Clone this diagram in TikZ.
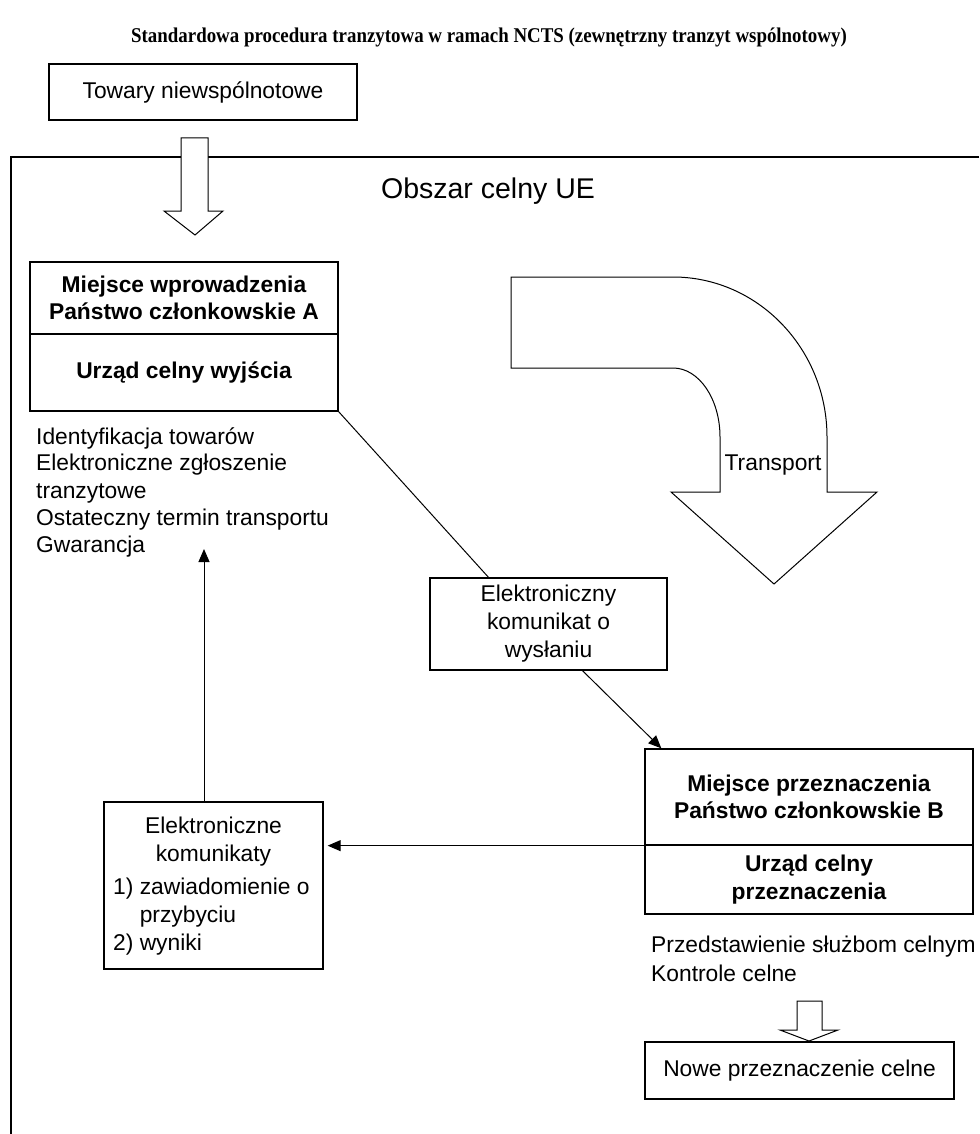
\documentclass[tikz,border=0pt]{standalone}
\usepackage{fontspec}
\setmainfont{Liberation Sans}
\newfontfamily\titlefont[FakeStretch=0.9]{Liberation Serif}
\usetikzlibrary{arrows.meta}

\begin{document}
\begin{tikzpicture}[x=1pt,y=-1pt,>={Triangle[length=13pt,width=11pt]},
  box/.style={draw,line width=1.3pt,align=center,inner sep=0pt},
  txt/.style={inner sep=0pt,font=\fontsize{22.8}{27.3}\selectfont},
  bold/.style={inner sep=0pt,font=\fontsize{22.8}{27.5}\selectfont\bfseries},
  hollow/.style={draw,fill=white,line width=1pt},
  link/.style={line width=1pt}]
\useasboundingbox (0,0) rectangle (979,1134);
\node[inner sep=0pt,font=\titlefont\bfseries\fontsize{21}{25}\selectfont] (title) at (489,37) {Standardowa procedura tranzytowa w ramach NCTS (zewnętrzny tranzyt wspólnotowy)};
\node[box,txt,minimum width=308,minimum height=56] (goods) at (203,92) {Towary niewspólnotowe};
% customs area
\draw[line width=2pt] (979,157) -- (11,157) -- (11,1134);
\node[inner sep=0pt,font=\fontsize{28.5}{32}\selectfont] (area) at (488,191) {Obszar celny UE};
\draw[hollow] (181,138) -- (208,138) -- (208,211) -- (223,211) -- (195,235) -- (164,211) -- (181,211) -- cycle;
% departure
\node[box,bold,minimum width=308,minimum height=72] (entryA) at (184,298) {Miejsce wprowadzenia\\Państwo członkowskie A};
\node[box,bold,minimum width=308,minimum height=77] (exitA) at (184,372.5) {Urząd celny wyjścia};
\foreach \y/\t [count=\i] in {438/Identyfikacja towarów,465/Elektroniczne zgłoszenie,493/tranzytowe,520/Ostateczny termin transportu,547/Gwarancja}
  \node[txt,anchor=west] (infoA\i) at (36,\y) {\t};
% transport arrow
\draw[hollow] (511,277) -- (673,277) .. controls (758,277) and (827,349) .. (827,437) -- (827,492) -- (877,492) -- (774,584) -- (671,492) -- (720,492) -- (720,437) .. controls (720,399) and (699,368) .. (673,368) -- (511,368) -- cycle;
\node[txt] (transport) at (773,465) {Transport};
% messages
\node[box,txt,font=\fontsize{22.8}{28}\selectfont,minimum width=237,minimum height=92] (sent) at (548.5,624) {Elektroniczny\\komunikat o\\wysłaniu};
\node[box,minimum width=219,minimum height=167] (msgs) at (213.5,885.5) {};
\node[txt,align=center,font=\fontsize{22.8}{28}\selectfont] (msgsHead) at (213.5,842) {Elektroniczne\\komunikaty};
\node[txt,align=left,anchor=west,font=\fontsize{22.8}{28}\selectfont] (msgsList) at (113,917) {1) zawiadomienie o\\\phantom{1) }przybyciu\\2) wyniki};
% destination
\node[box,bold,minimum width=328,minimum height=96] (entryB) at (809,797) {Miejsce przeznaczenia\\Państwo członkowskie B};
\node[box,bold,minimum width=328,minimum height=69] (exitB) at (809,879.5) {Urząd celny\\przeznaczenia};
\foreach \y/\t [count=\i] in {947/Przedstawienie służbom celnym,973/Kontrole celne}
  \node[txt,anchor=west] (infoB\i) at (651,\y) {\t};
\draw[hollow] (797,1001) -- (822,1001) -- (822,1030) -- (838,1030) -- (809,1041) -- (780,1030) -- (797,1030) -- cycle;
\node[box,txt,minimum width=309,minimum height=57] (newdest) at (799.5,1070.5) {Nowe przeznaczenie celne};
% connectors
\coordinate (infoEnd) at (204,549);
\draw[link] (exitA.south east) -- ([xshift=-60pt]sent.north);
\draw[link,->] ([xshift=34pt]sent.south) -- ([xshift=17pt]entryB.north west);
\draw[link,->] (entryB.south west) -- ([xshift=4pt]entryB.south west -| msgs.east);
\draw[link,->] ([xshift=-9.5pt]msgs.north) -- (infoEnd);
\end{tikzpicture}
\end{document}
